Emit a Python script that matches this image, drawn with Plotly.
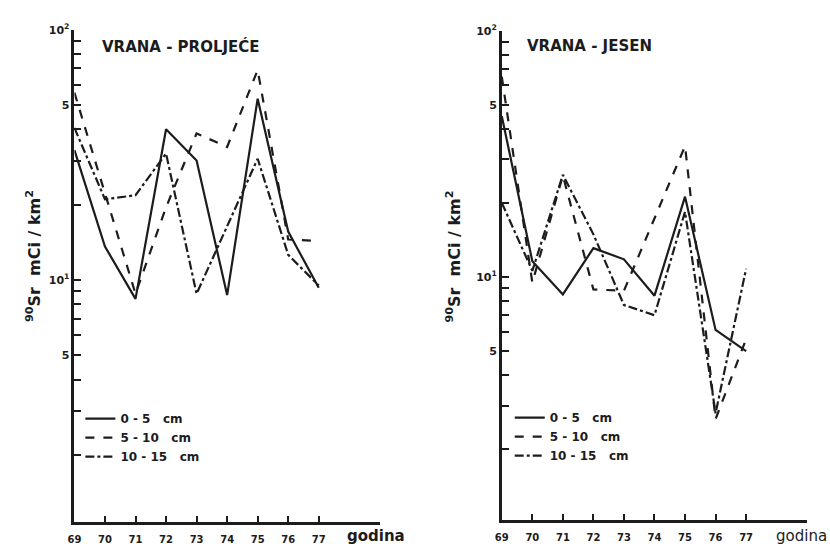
import plotly.graph_objects as go

years = [69, 70, 71, 72, 73, 74, 75, 76, 77]
series_names = ["0 - 5   cm", "5 - 10   cm", "10 - 15   cm"]
dashes = ["solid", "dash", "dashdot"]

# VRANA - PROLJEĆE
spring_0_5 = [33, 13.6, 8.4, 40, 30, 8.7, 53, 15.6, 9.3]
spring_5_10 = [56, 22, 8.8, 19.5, 38.5, 34, 69, 14.5, 14.3]
spring_10_15 = [40.5, 21, 21.8, 32, 8.8, 16.5, 30.5, 12.6, 9.5]

# VRANA - JESEN
autumn_0_5 = [45, 11.6, 8.5, 13.1, 11.8, 8.4, 21.2, 6.1, 5.0]
autumn_5_10 = [65, 9.5, 25.8, 8.9, 8.8, 17.3, 34, 2.65, 5.6]
autumn_10_15 = [20, 10.6, 26, 14.9, 7.7, 7.0, 18.4, 2.8, 10.8]

x_tick_labels = ["<b>69</b>", "<b>70</b>", "<b>71</b>", "<b>72</b>", "<b>73</b>",
                 "<b>74</b>", "<b>75</b>", "<b>76</b>", "<b>77</b>"]
y_label_vals = [5, 10, 50, 100]
y_label_text = ["<b>5</b>", "<b>10<sup>1</sup></b>", "<b>5</b>", "<b>10<sup>2</sup></b>"]

W, H = 830, 550
INK = "#1c1c1c"
FONT = "DejaVu Sans"

fig = go.Figure()

panels = [
    dict(data=[spring_0_5, spring_5_10, spring_10_15], xa="x", ya="y", legend="legend"),
    dict(data=[autumn_0_5, autumn_5_10, autumn_10_15], xa="x2", ya="y2", legend="legend2"),
]
for p in panels:
    for vals, name, d in zip(p["data"], series_names, dashes):
        fig.add_trace(go.Scatter(
            x=years, y=vals, mode="lines", name="<b>" + name + "</b>",
            line=dict(color=INK, width=2.2, dash=d),
            xaxis=p["xa"], yaxis=p["ya"], legend=p["legend"], showlegend=True,
        ))

def px_x(px):
    return px / W

def px_y(py):
    return 1 - py / H

axis_common_x = dict(
    range=[69, 79], tickvals=years, ticktext=x_tick_labels,
    ticks="inside", ticklen=7, tickwidth=1.5, tickcolor=INK, ticklabelstandoff=6,
    showline=True, linewidth=2.5, linecolor=INK, showgrid=False, zeroline=False,
    tickfont=dict(family=FONT, size=10, color=INK),
)
axis_common_y = dict(
    type="log", tickvals=y_label_vals, ticktext=y_label_text,
    ticks="inside", ticklen=7, tickwidth=1.5, tickcolor=INK,
    minor=dict(dtick="D1", ticks="inside", ticklen=7, tickwidth=1.5, tickcolor=INK, showgrid=False),
    showline=True, linewidth=2.5, linecolor=INK, showgrid=False, zeroline=False,
    tickfont=dict(family=FONT, size=11, color=INK),
)

legend_common = dict(xanchor="left", yanchor="top", bgcolor="rgba(0,0,0,0)",
                     font=dict(family=FONT, size=12, color=INK),
                     tracegroupgap=0, itemwidth=30)

fig.update_layout(
    width=W, height=H, margin=dict(l=0, r=0, t=0, b=0),
    paper_bgcolor="white", plot_bgcolor="white",
    xaxis=dict(domain=[px_x(68), px_x(376)], anchor="y", **axis_common_x),
    yaxis=dict(domain=[px_y(522), px_y(22)], anchor="x", range=[0.031, 2], **axis_common_y),
    xaxis2=dict(domain=[px_x(499), px_x(807)], anchor="y2", **axis_common_x),
    yaxis2=dict(domain=[px_y(520), px_y(23)], anchor="x2", range=[0.012, 2], **axis_common_y),
    legend=dict(x=px_x(74), y=px_y(402), **legend_common),
    legend2=dict(x=px_x(507), y=px_y(401), **legend_common),
    showlegend=True,
)

annotations = [
    dict(text="<b>VRANA - PROLJEĆE</b>", x=px_x(94), y=px_y(39), xanchor="left", yanchor="middle",
         font=dict(family=FONT, size=15, color=INK)),
    dict(text="<b>VRANA - JESEN</b>", x=px_x(522), y=px_y(39), xanchor="left", yanchor="middle",
         font=dict(family=FONT, size=15, color=INK)),
    dict(text="<b><sup>90</sup>Sr  mCi / km<sup>2</sup></b>", x=px_x(27), y=px_y(252), textangle=-90,
         xanchor="center", yanchor="middle", font=dict(family=FONT, size=16, color=INK)),
    dict(text="<b><sup>90</sup>Sr  mCi / km<sup>2</sup></b>", x=px_x(450), y=px_y(252), textangle=-90,
         xanchor="center", yanchor="middle", font=dict(family=FONT, size=16, color=INK)),
    dict(text="<b>godina</b>", x=px_x(372), y=px_y(536), xanchor="center", yanchor="middle",
         font=dict(family=FONT, size=15, color=INK)),
    dict(text="godina", x=px_x(801), y=px_y(536), xanchor="center", yanchor="middle",
         font=dict(family=FONT, size=15, color=INK)),
]
for a in annotations:
    a.update(xref="paper", yref="paper", showarrow=False)
fig.update_layout(annotations=annotations)

fig.write_html("out.html")
